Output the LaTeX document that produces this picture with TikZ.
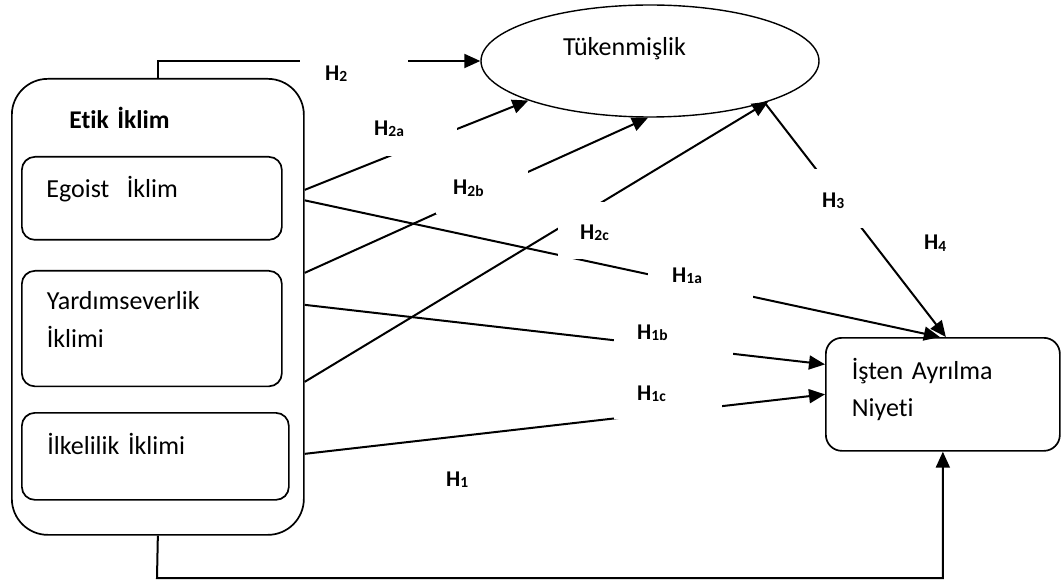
\documentclass[tikz,border=0pt]{standalone}
\usepackage{fontspec}
\setmainfont{Carlito}[Ligatures=NoCommon]
\usetikzlibrary{arrows.meta,shapes.geometric,calc}
\newcommand\Hsub[1]{\textbf{H}\raisebox{-1.5pt}{\fontsize{15.5}{15.5}\selectfont\bfseries #1}}
\begin{document}
\begin{tikzpicture}[x=1pt,y=-1pt,
  every node/.style={font=\fontsize{26}{37.5}\selectfont},
  boxn/.style={draw, line width=1.7pt, anchor=north west, align=left, inner ysep=0pt, rounded corners=13pt},
  hl/.style={fill=white, anchor=north west, align=left, inner ysep=0pt, font=\fontsize{22.5}{27}\selectfont},
  hfree/.style={anchor=base west, inner sep=0pt, font=\fontsize{22.5}{27}\selectfont},
  conn/.style={line width=2pt},
  arr/.style={conn, -{Triangle[length=16pt,width=14pt]}}
]
\path[fill=white, use as bounding box] (0,0) rectangle (1061,580);

% boxes
\node (etik) [boxn, rounded corners=36pt, inner xsep=57.6pt, text width=176.8pt,
  text height=49.8pt, text depth=406.2pt, font=\fontsize{25.5}{37.5}\selectfont\bfseries] at (11,78) {Etik İklim};
\node (egoist) [boxn, inner xsep=24.6pt, text width=210.8pt, text height=40.8pt, text depth=42.2pt] at (21,156) {Egoist\ \ İklim};
\node (yardim) [boxn, inner xsep=25pt, text width=210pt, text height=38.8pt, text depth=76.7pt] at (21,270) {Yardımseverlik\\İklimi};
\node (ilke) [boxn, inner xsep=25.5pt, text width=216pt, text height=41.8pt, text depth=45.2pt] at (21,412) {İlkelilik İklimi};
\node (isten) [boxn, rounded corners=16pt, inner xsep=26pt, text width=182pt, text height=41.3pt, text depth=71.7pt] at (825,337) {İşten Ayrılma\\Niyeti};
\node (tuk) [ellipse, draw, line width=1.4pt, minimum width=338pt, minimum height=112pt, inner sep=0pt,
  text width=174pt, align=left, text height=18pt, text depth=28pt] at (650,61) {Tükenmişlik};

% connectors
\coordinate (bot) at (157,578);
\draw[arr] (etik.north) |- (tuk.west);
\draw[arr] (etik.south) -- (bot) -| (isten.south);
\draw[arr] ([yshift=117pt]etik.east) -- (tuk.198);
\draw[arr] ([yshift=106.5pt]etik.east) -- ([xshift=-3pt]isten.north);
\draw[arr] ([yshift=34pt]etik.east) -- (tuk.268);
\draw[arr] ([yshift=2pt]etik.east) -- ([yshift=30pt]isten.west);
\draw[arr] ([yshift=-75pt]etik.east) -- (tuk.341);
\draw[arr] ([yshift=-147pt]etik.east) -- (isten.west);
\draw[arr] (tuk.340) -- ([xshift=3pt]isten.north);

% labels (text boxes with white fill)
\node (h2)  [hl, inner xsep=25pt, text width=58pt, text height=28pt, text depth=14pt] at (300,52) {\Hsub{2}};
\node (h2a) [hl, inner xsep=19pt, text width=64pt, text height=34pt, text depth=21pt] at (355,101) {\Hsub{2a}};
\node (h2b) [hl, inner xsep=17pt, text width=58pt, text height=33.6pt, text depth=19.4pt] at (436,161) {\Hsub{2b}};
\node (h2c) [hl, inner xsep=22pt, text width=48pt, text height=37pt, text depth=20pt] at (558,202) {\Hsub{2c}};
\node (h1a) [hl, inner xsep=24pt, text width=57pt, text height=28pt, text depth=16pt] at (648,254) {\Hsub{1a}};
\node (h1b) [hl, inner xsep=23pt, text width=73pt, text height=29pt, text depth=16pt] at (614,310) {\Hsub{1b}};
\node (h1c) [hl, inner xsep=23pt, text width=62pt, text height=32pt, text depth=19pt] at (614,368) {\Hsub{1c}};
\node (h3)  [hl, inner xsep=24pt, text width=54pt, text height=38pt, text depth=21pt] at (798,169) {\Hsub{3}};
\node (h4)  [hfree] at (924,250) {\Hsub{4}};
\node (h1)  [hfree] at (446,486) {\Hsub{1}};
\end{tikzpicture}
\end{document}
